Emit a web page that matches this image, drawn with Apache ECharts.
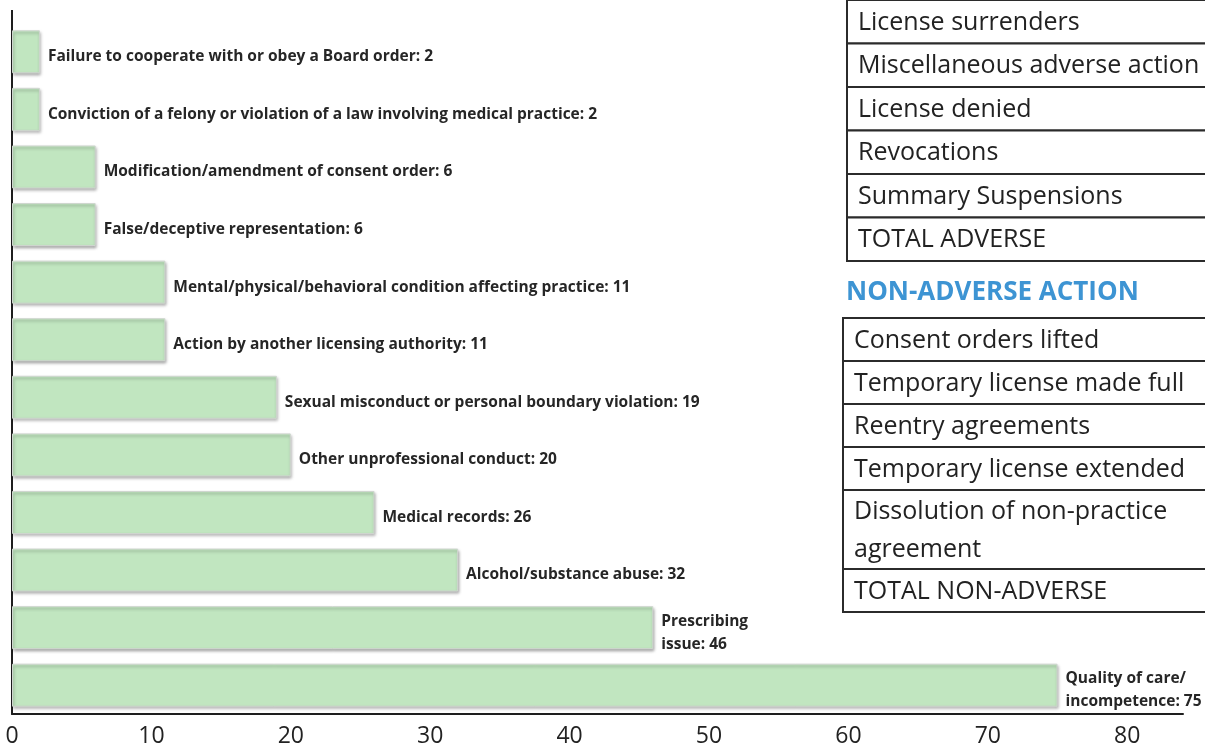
<!DOCTYPE html>
<html>
<head>
<meta charset="utf-8">
<script src="https://cdn.jsdelivr.net/npm/echarts@6/dist/echarts.min.js"></script>
<style>
  html, body { margin: 0; padding: 0; background: #fff; }
  #chart { width: 1205px; height: 748px; }
</style>
</head>
<body>
<div id="chart"></div>
<script>
// categories, top to bottom
const categories = [
  'Failure to cooperate with or obey a Board order',
  'Conviction of a felony or violation of a law involving medical practice',
  'Modification/amendment of consent order',
  'False/deceptive representation',
  'Mental/physical/behavioral condition affecting practice',
  'Action by another licensing authority',
  'Sexual misconduct or personal boundary violation',
  'Other unprofessional conduct',
  'Medical records',
  'Alcohol/substance abuse',
  'Prescribing issue',
  'Quality of care/ incompetence'
];
const counts = [2, 2, 6, 6, 11, 11, 19, 20, 26, 32, 46, 75];
// labels that wrap onto two lines in the original
const wrapWidths = { 'Prescribing issue': 100, 'Quality of care/ incompetence': 150 };

const xTicks = [0, 10, 20, 30, 40, 50, 60, 70, 80];

const adverseRows = [
  'License surrenders',
  'Miscellaneous adverse action',
  'License denied',
  'Revocations',
  'Summary Suspensions',
  'TOTAL ADVERSE'
];
const nonAdverseTitle = 'NON-ADVERSE ACTION';
const nonAdverseRows = [
  'Consent orders lifted',
  'Temporary license made full',
  'Reentry agreements',
  'Temporary license extended',
  'Dissolution of non-practice\nagreement',
  'TOTAL NON-ADVERSE'
];

const chart = echarts.init(document.getElementById('chart'));

const barColor = '#c1e6c0';

function tableGraphic(rows, x0, y0, rowH, tallH) {
  const children = [];
  let y = 0;
  rows.forEach(function (r) {
    const h = r.indexOf('\n') >= 0 ? tallH : rowH;
    children.push({
      type: 'rect',
      shape: { x: 0, y: y, width: 420, height: h },
      style: { fill: '#fff', stroke: '#2b2b2b', lineWidth: 2 }
    });
    children.push({
      type: 'text',
      x: 11,
      y: y + h / 2 + 1,
      style: {
        text: r,
        fill: '#222',
        font: '25px "Open Sans", sans-serif',
        verticalAlign: 'middle',
        lineHeight: 38
      }
    });
    y += h;
  });
  return { type: 'group', x: x0, y: y0, children: children };
}

const option = {
  animation: false,
  backgroundColor: '#fff',
  grid: { left: 12, right: 22, top: 23, bottom: 29.5, containLabel: false },
  xAxis: {
    type: 'value',
    min: 0,
    max: 84,
    interval: 10,
    splitLine: { show: false },
    axisTick: { show: false },
    axisLine: { show: true, lineStyle: { color: '#1e1e1e', width: 2 } },
    axisLabel: {
      color: '#222',
      fontSize: 23,
      fontFamily: '"Open Sans", sans-serif',
      margin: 11,
      formatter: function (v) { return xTicks.indexOf(v) >= 0 ? String(v) : ''; }
    }
  },
  yAxis: {
    type: 'category',
    inverse: true,
    data: categories,
    axisTick: { show: false },
    axisLabel: { show: false },
    axisLine: { show: true, lineStyle: { color: '#1e1e1e', width: 2 } }
  },
  series: [{
    type: 'bar',
    barWidth: 43,
    data: counts.map(function (v, i) {
      const name = categories[i];
      const d = { value: v };
      if (wrapWidths[name]) {
        d.label = { width: wrapWidths[name], overflow: 'break', lineHeight: 23 };
      }
      return d;
    }),
    itemStyle: {
      color: barColor,
      borderColor: '#cfd6cf',
      borderWidth: 1,
      shadowColor: 'rgba(0,0,0,0.35)',
      shadowBlur: 3,
      shadowOffsetX: 1,
      shadowOffsetY: 2
    },
    label: {
      show: true,
      position: 'right',
      distance: 8,
      offset: [0, 5],
      color: '#262626',
      fontSize: 15.5,
      fontWeight: 'bold',
      fontFamily: '"Open Sans", sans-serif',
      formatter: function (p) { return p.name + ': ' + p.value; }
    }
  }],
  graphic: [
    {
      type: 'line',
      shape: { x1: 12, y1: 10, x2: 12, y2: 24 },
      style: { stroke: '#1e1e1e', lineWidth: 2 }
    },
    tableGraphic(adverseRows, 847, 0, 43.5, 79),
    {
      type: 'text',
      x: 846,
      y: 293,
      style: {
        text: nonAdverseTitle,
        fill: '#3d94d3',
        font: 'bold 26px "Open Sans", sans-serif',
        verticalAlign: 'middle'
      }
    },
    tableGraphic(nonAdverseRows, 843, 318, 43, 79)
  ]
};

chart.setOption(option);
</script>
</body>
</html>
